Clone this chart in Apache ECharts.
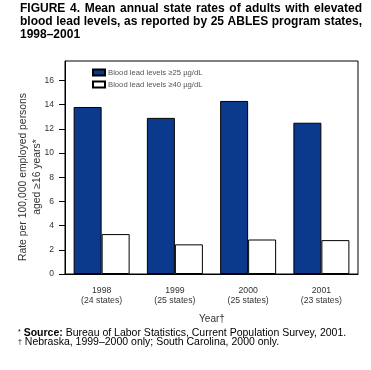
<!DOCTYPE html>
<html><head><meta charset="utf-8">
<script src="https://cdn.jsdelivr.net/npm/echarts@6/dist/echarts.min.js"></script>
<style>html,body{margin:0;padding:0;background:#fff}#c{width:371px;height:370px}</style>
</head><body><div id="c"></div>
<script>
var years = ['1998', '1999', '2000', '2001'];
var states = ['(24 states)', '(25 states)', '(25 states)', '(23 states)'];
var seriesNames = ['Blood lead levels \u226525 \u00b5g/dL', 'Blood lead levels \u226540 \u00b5g/dL'];
var rate25 = [13.8, 12.9, 14.3, 12.5];
var rate40 = [3.3, 2.45, 2.85, 2.8];
var yTicks = [0, 2, 4, 6, 8, 10, 12, 14, 16];
var titleLines = [
  'FIGURE 4. Mean annual state rates of adults with elevated',
  'blood lead levels, as reported by 25 ABLES program states,',
  '1998\u20132001'
];

var FONT = 'Liberation Sans, Arial, Helvetica, sans-serif';
var TITLE_FONT = 'bold 12px ' + FONT;

// justified title lines built as word-level text elements
var measureCtx = document.createElement('canvas').getContext('2d');
measureCtx.font = TITLE_FONT;
var graphics = [];
var tLeft = 20, tRight = 362, tTop = 3, tLine = 13;
titleLines.forEach(function (line, li) {
  var words = line.split(' ');
  var justify = li < titleLines.length - 1;
  var widths = words.map(function (w) { return measureCtx.measureText(w).width; });
  var total = widths.reduce(function (a, b) { return a + b; }, 0);
  var gap = justify ? (tRight - tLeft - total) / (words.length - 1) : measureCtx.measureText(' ').width;
  var x = tLeft;
  words.forEach(function (w, wi) {
    graphics.push({type: 'text', x: x, y: tTop + li * tLine, style: {text: w, font: TITLE_FONT, fill: '#000', verticalAlign: 'top'}});
    x += widths[wi] + gap;
  });
});

graphics.push(
  {type: 'text', x: 30, y: 177, rotation: Math.PI / 2,
   style: {text: 'Rate per 100,000 employed persons\naged \u226516 years*', font: '10.4px ' + FONT, fill: '#333', align: 'center', verticalAlign: 'middle', lineHeight: 14}},
  {type: 'text', x: 212, y: 319, style: {text: 'Year\u2020', font: '10px ' + FONT, fill: '#333', align: 'center', verticalAlign: 'middle'}},
  {type: 'text', x: 18, y: 328.5, style: {rich: {s: {fontSize: 7, fill: '#000', verticalAlign: 'top', lineHeight: 9}, b: {fontWeight: 'bold', fontSize: 10.5, fill: '#000', lineHeight: 9}, n: {fontSize: 10.5, fill: '#000', lineHeight: 9}},
    text: '{s|*}{b| Source:}{n| Bureau of Labor Statistics, Current Population Survey, 2001.}', font: '10.5px ' + FONT, verticalAlign: 'top'}},
  {type: 'text', x: 18, y: 338, style: {rich: {s: {fontSize: 7, fill: '#000', lineHeight: 9}, n: {fontSize: 10.5, fill: '#000', lineHeight: 9}},
    text: '{s|\u2020}{n| Nebraska, 1999\u20132000 only; South Carolina, 2000 only.}', font: '10.5px ' + FONT, verticalAlign: 'top'}}
);

var chart = echarts.init(document.getElementById('c'), null, {renderer: 'canvas'});
chart.setOption({
  animation: false,
  backgroundColor: '#fff',
  textStyle: {fontFamily: FONT},
  grid: {left: 65, top: 61, right: 13, bottom: 96, show: true, borderColor: '#000', borderWidth: 1, containLabel: false},
  legend: {
    orient: 'vertical', left: 92, top: 68.5, padding: 0, itemWidth: 12, itemHeight: 6, itemGap: 4,
    icon: 'rect',
    textStyle: {fontSize: 7.7, lineHeight: 8, color: '#555', fontFamily: FONT, padding: [0, 0, 0, -2]},
    data: seriesNames
  },
  xAxis: {
    type: 'category', data: years,
    axisLine: {lineStyle: {color: '#000', width: 1}},
    axisTick: {show: false},
    axisLabel: {
      color: '#333', fontSize: 8.7, lineHeight: 10.5, margin: 11, fontFamily: FONT,
      formatter: function (v, i) { return v + '\n' + states[i]; }
    }
  },
  yAxis: {
    type: 'value', min: 0, max: 17.6, interval: 2,
    axisLine: {show: true, lineStyle: {color: '#000', width: 1}},
    axisTick: {show: true, length: 6, lineStyle: {color: '#000'}, customValues: yTicks},
    axisLabel: {color: '#333', fontSize: 8.5, margin: 11, fontFamily: FONT, customValues: yTicks},
    splitLine: {show: false}
  },
  series: [
    {name: seriesNames[0], type: 'bar', data: rate25, barWidth: 28, barGap: '0%',
     itemStyle: {color: '#0b3a8c', borderColor: '#000', borderWidth: 1}},
    {name: seriesNames[1], type: 'bar', data: rate40, barWidth: 28, barGap: '0%',
     itemStyle: {color: '#fff', borderColor: '#000', borderWidth: 1}}
  ],
  graphic: graphics
});
</script></body></html>
